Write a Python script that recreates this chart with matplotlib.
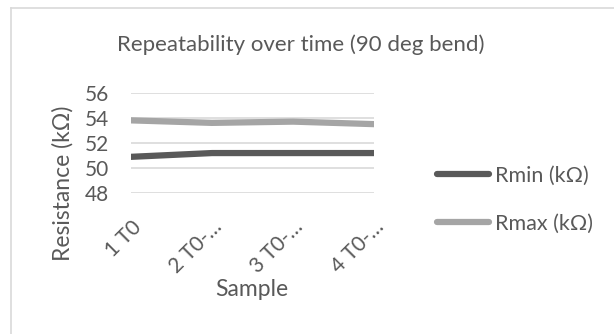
import matplotlib
matplotlib.use("Agg")
import matplotlib.pyplot as plt
from matplotlib.lines import Line2D

plt.rcParams['font.family'] = ['Lato', 'DejaVu Sans']

samples = ["1 T0", "2 T0-…", "3 T0-…", "4 T0-…"]
r_min = [50.9, 51.2, 51.2, 51.2]
r_max = [53.8, 53.6, 53.7, 53.5]
y_ticks = [48, 50, 52, 54, 56]

W, H = 614, 334
TEXT = "#595959"
fig = plt.figure(figsize=(W / 100, H / 100), dpi=100)
fig.patch.set_facecolor("white")

# chart-area border (left and top edges visible)
fig.add_artist(Line2D([10.5 / W, 10.5 / W], [0, 1 - 7.5 / H], color="#d9d9d9", lw=1.2,
                      transform=fig.transFigure))
fig.add_artist(Line2D([10.5 / W, 1], [1 - 7.5 / H, 1 - 7.5 / H], color="#d9d9d9", lw=1.2,
                      transform=fig.transFigure))

# plot area
left, right = 131, 374
y56, y48 = 92.7, 193.3
ax = fig.add_axes([left / W, 1 - y48 / H, (right - left) / W, (y48 - y56) / H])
x = list(range(len(samples)))
ax.plot(x, r_max, color="#a5a5a5", lw=4.5, solid_capstyle="round", zorder=3)
ax.plot(x, r_min, color="#595959", lw=4.5, solid_capstyle="round", zorder=4)
ax.set_xlim(0, len(samples) - 1)
ax.set_ylim(48, 56)
ax.set_yticks(y_ticks)
ax.set_xticks(x)
ax.set_xticklabels(samples, rotation=45, ha="right", va="top", rotation_mode="anchor")
ax.grid(axis="y", color="#d9d9d9", lw=1.2)
ax.set_axisbelow(True)
for s in ax.spines.values():
    s.set_visible(False)
ax.tick_params(length=0, colors=TEXT, labelsize=15)
ax.tick_params(axis="y", pad=16)
ax.tick_params(axis="x", pad=17)

fig.text(301 / W, 1 - 45 / H, "Repeatability over time (90 deg bend)", ha="center", va="center",
         fontsize=16, color=TEXT)
fig.text(252 / W, 1 - 290 / H, "Sample", ha="center", va="center", fontsize=16.5, color=TEXT)
fig.text(63 / W, 1 - 183 / H, "Resistance (kΩ)", ha="center", va="center", rotation=90,
         fontsize=16.5, color=TEXT)

handles = [Line2D([], [], color="#595959", lw=4.5, solid_capstyle="round"),
           Line2D([], [], color="#a5a5a5", lw=4.5, solid_capstyle="round")]
leg = fig.legend(handles, ["Rmin (kΩ)", "Rmax (kΩ)"], loc="center left",
                 bbox_to_anchor=(437 / W, 1 - 200 / H), frameon=False, fontsize=15.5,
                 handlelength=2.4, handletextpad=0.3, labelspacing=1.3, borderpad=0,
                 borderaxespad=0)
for t in leg.get_texts():
    t.set_color(TEXT)

fig.savefig("out.png", dpi=100)
